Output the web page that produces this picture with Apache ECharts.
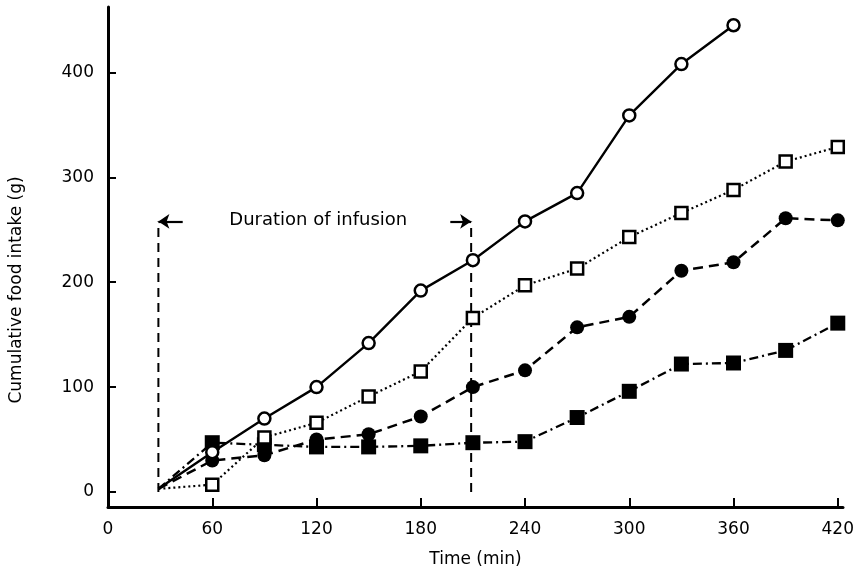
<!DOCTYPE html>
<html>
<head>
<meta charset="utf-8">
<script src="https://cdn.jsdelivr.net/npm/echarts@6/dist/echarts.min.js"></script>
<style>
html,body{margin:0;padding:0;background:#fff;}
#chart{width:857px;height:573px;}
</style>
</head>
<body>
<div id="chart"></div>
<script>
// ---- data ----
const times = [29, 60, 90, 120, 150, 180, 210, 240, 270, 300, 330, 360, 390, 420];
const openCircle   = [3, 38, 70, 100, 142, 192, 221, 258, 285, 359, 408, 445];
const openSquare   = [3, 7, 52, 66, 91, 115, 166, 197, 213, 243, 266, 288, 315, 329];
const filledCircle = [3, 30, 35, 50, 55, 72, 100, 116, 157, 167, 211, 219, 261, 259];
const filledSquare = [3, 47, 45, 43, 43, 44, 47, 48, 71, 96, 122, 123, 135, 161];
const xTicks = [60, 120, 180, 240, 300, 360, 420];
const xLabels = [0, 60, 120, 180, 240, 300, 360, 420];
const yTicks = [0, 100, 200, 300, 400];
const infusionStart = 29, infusionEnd = 209, arrowLevel = 258;
const infusionText = 'Duration of infusion';
const xName = 'Time (min)';
const yName = 'Cumulative food intake (g)';

const FONT = 'DejaVu Sans';
const INK = '#000';

function pts(vals) {
  return vals.map((v, i) => i === 0 ? { value: [times[i], v], symbol: 'none' } : [times[i], v]);
}

const chart = echarts.init(document.getElementById('chart'), null, { renderer: 'canvas' });
chart.setOption({
  animation: false,
  backgroundColor: '#fff',
  grid: { left: 108, right: 9, top: 7, bottom: 66, containLabel: false },
  xAxis: {
    type: 'value', min: 0, max: 423,
    name: xName, nameLocation: 'middle', nameGap: 44,
    nameTextStyle: { fontFamily: FONT, fontSize: 17, color: INK },
    axisLine: { show: true, onZero: false, lineStyle: { color: INK, width: 3 } },
    axisTick: { show: true, inside: true, length: 9, customValues: xTicks, lineStyle: { color: INK, width: 2 } },
    axisLabel: { customValues: xLabels, margin: 14, fontFamily: FONT, fontSize: 17, color: INK },
    splitLine: { show: false }
  },
  yAxis: {
    type: 'value', min: -14.3, max: 462.4,
    axisLine: { show: true, onZero: false, lineStyle: { color: INK, width: 3 } },
    axisTick: { show: true, inside: true, length: 8, customValues: yTicks, lineStyle: { color: INK, width: 2 } },
    axisLabel: { customValues: yTicks, margin: 14, fontFamily: FONT, fontSize: 17, color: INK },
    splitLine: { show: false }
  },
  graphic: [{
    type: 'text', x: 17, y: 290, rotation: Math.PI / 2,
    style: { text: yName, fontFamily: FONT, fontSize: 17, fill: INK, textAlign: 'center', textVerticalAlign: 'middle' }
  }],
  series: [
    {
      type: 'line', data: [[infusionStart, 0], [infusionStart, arrowLevel]],
      symbol: 'none', lineStyle: { color: INK, width: 2, type: [9, 6] }, z: 1,
      markLine: {
        silent: true, symbol: ['none', 'arrow'], symbolSize: 11,
        label: { show: false },
        lineStyle: { color: INK, width: 2.2, type: 'solid' },
        data: [
          [{ coord: [infusionStart + 14, arrowLevel] }, { coord: [infusionStart, arrowLevel] }],
          [{ coord: [infusionEnd - 12, arrowLevel] }, { coord: [infusionEnd, arrowLevel] }]
        ]
      }
    },
    {
      type: 'line', data: [[infusionEnd, 0], [infusionEnd, arrowLevel]],
      symbol: 'none', lineStyle: { color: INK, width: 2, type: [9, 6] }, z: 1
    },
    {
      type: 'scatter', data: [[(infusionStart + infusionEnd) / 2 + 2, arrowLevel + 1]],
      symbolSize: 1, itemStyle: { color: 'rgba(0,0,0,0)' },
      label: { show: true, position: 'inside', formatter: infusionText, fontFamily: FONT, fontSize: 18,
               color: INK, textBorderWidth: 0, opacity: 1 },
      z: 1
    },
    {
      name: 'filledSquare', type: 'line', data: pts(filledSquare),
      symbol: 'rect', symbolSize: 15, showAllSymbol: true,
      itemStyle: { color: INK, borderColor: INK, borderWidth: 0 },
      lineStyle: { color: INK, width: 2.3, type: [9, 4, 2, 4] }, z: 2
    },
    {
      name: 'filledCircle', type: 'line', data: pts(filledCircle),
      symbol: 'circle', symbolSize: 14, showAllSymbol: true,
      itemStyle: { color: INK, borderColor: INK, borderWidth: 0 },
      lineStyle: { color: INK, width: 2.5, type: [10, 6] }, z: 3
    },
    {
      name: 'openSquare', type: 'line', data: pts(openSquare),
      symbol: 'rect', symbolSize: 12, showAllSymbol: true,
      itemStyle: { color: '#fff', borderColor: INK, borderWidth: 2.5 },
      lineStyle: { color: INK, width: 2.2, type: [2, 3] }, z: 4
    },
    {
      name: 'openCircle', type: 'line', data: pts(openCircle),
      symbol: 'circle', symbolSize: 12, showAllSymbol: true,
      itemStyle: { color: '#fff', borderColor: INK, borderWidth: 2.5 },
      lineStyle: { color: INK, width: 2.4, type: 'solid' }, z: 5
    }
  ]
});
</script>
</body>
</html>
